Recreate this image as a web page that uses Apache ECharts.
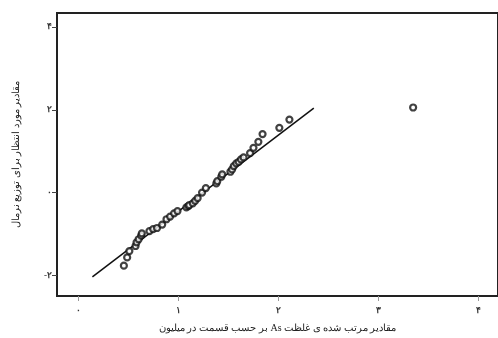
<!DOCTYPE html>
<html><head><meta charset="utf-8">
<script src="https://cdn.jsdelivr.net/npm/echarts@6/dist/echarts.min.js"></script>
<style>html,body{margin:0;padding:0;background:#fff}#c{width:498px;height:338px}</style>
</head><body><div id="c"></div>
<script>
// Sorted observed values (ppm) and expected normal quantiles
const observed = [0.453,0.486,0.508,0.570,0.580,0.601,0.626,0.633,0.709,0.746,0.785,0.837,0.880,0.916,0.956,0.990,1.079,1.099,1.108,1.143,1.167,1.192,1.236,1.274,1.379,1.389,1.429,1.438,1.520,1.537,1.554,1.579,1.603,1.626,1.652,1.717,1.751,1.800,1.842,2.010,2.111,3.350];
const expected = [-1.766,-1.568,-1.413,-1.292,-1.203,-1.128,-1.039,-0.985,-0.930,-0.882,-0.857,-0.773,-0.645,-0.580,-0.502,-0.447,-0.357,-0.326,-0.302,-0.261,-0.200,-0.133,0.000,0.109,0.222,0.278,0.382,0.440,0.503,0.560,0.640,0.705,0.744,0.802,0.850,0.954,1.082,1.227,1.413,1.565,1.763,2.056];
const refLineX = [0.138, 2.355];
const refLineY = [-2.04, 2.04];
const xTicks = [0,1,2,3,4];
const yTicks = [-2,0,2,4];
const xTitle = 'مقادیر مرتب شده ی غلظت As بر حسب قسمت در میلیون';
const yTitle = 'مقادیر مورد انتظار برای توزیع نرمال';

const fa = v => String(v).replace(/\d/g, d => '۰۱۲۳۴۵۶۷۸۹'[d]);
const rtl = s => '\u202B' + s + '\u202C';
const pts = observed.map((x,i)=>[x, expected[i]]);
const line = refLineX.map((x,i)=>[x, refLineY[i]]);
const font = '"Liberation Serif","DejaVu Serif",serif';

const chart = echarts.init(document.getElementById('c'));
chart.setOption({
  animation:false,
  backgroundColor:'#fff',
  grid:{left:57, top:13, bottom:42, right:-7, show:true, borderColor:'#222', borderWidth:2, backgroundColor:'transparent'},
  xAxis:{type:'value', min:-0.2167, max:4.2,
    axisLine:{show:false, onZero:false}, splitLine:{show:false},
    axisTick:{show:true, customValues:xTicks, length:5, lineStyle:{color:'#999'}},
    axisLabel:{customValues:xTicks, formatter:fa, fontSize:9, fontWeight:'bold', color:'#333', margin:10, fontFamily:font},
    name:rtl(xTitle), nameLocation:'middle', nameGap:27,
    nameTextStyle:{fontSize:10, color:'#222', fontFamily:font}},
  yAxis:{type:'value', min:-2.5, max:4.34,
    axisLine:{show:false, onZero:false}, splitLine:{show:false},
    axisTick:{show:true, customValues:yTicks, length:5, lineStyle:{color:'#444'}},
    axisLabel:{customValues:yTicks, formatter:fa, fontSize:9, fontWeight:'bold', color:'#333', margin:5, fontFamily:font},
    name:rtl(yTitle), nameLocation:'middle', nameGap:36, nameRotate:90,
    nameTextStyle:{fontSize:10, color:'#222', fontFamily:font}},
  series:[
    {type:'line', data:line, symbol:'none', lineStyle:{color:'#111', width:1.5}, z:2},
    {type:'scatter', data:pts, symbol:'circle', symbolSize:6,
     itemStyle:{color:'#fff', borderColor:'#111', borderWidth:2.2}, z:3}
  ]
});
</script></body></html>
